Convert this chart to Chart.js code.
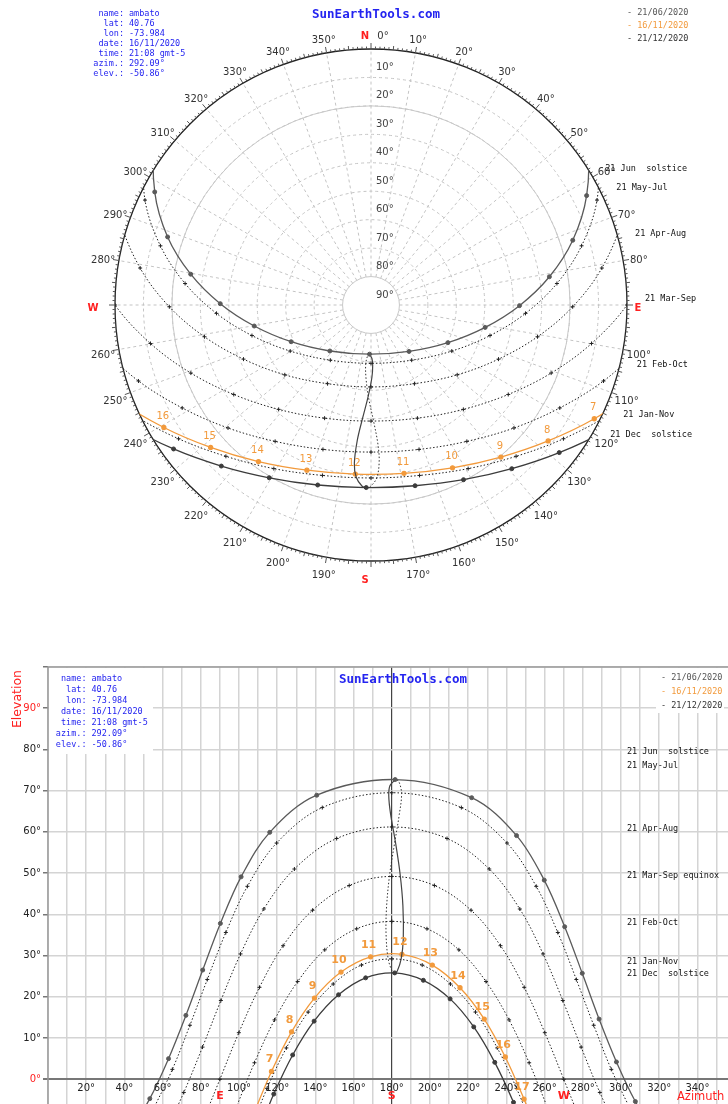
<!DOCTYPE html>
<html>
<head>
<meta charset="utf-8">
<script src="https://cdn.jsdelivr.net/npm/chart.js@4/dist/chart.umd.min.js"></script>
<style>
html, body { margin:0; padding:0; background:#fff; }
#polarBox { position:absolute; left:0; top:0; width:728px; height:600px; }
#flatBox { position:absolute; left:0; top:600px; width:728px; height:504px; }
</style>
</head>
<body>
<div id="polarBox"><canvas id="polarChart" width="728" height="600"></canvas></div>
<div id="flatBox"><canvas id="flatChart" width="728" height="504"></canvas></div>
<script>
// sun paths, azimuth / elevation in degrees, one point per clock hour
var junAz = [42.3, 53.3, 63.1, 72.2, 81.0, 90.25, 101.1, 116.1, 140.7, 181.75, 221.8, 245.3, 259.8, 270.5, 279.7, 288.5, 297.6, 307.5, 318.6];
var junEl = [-13.1, -4.7, 5.0, 15.5, 26.5, 37.8, 49.1, 59.9, 68.9, 72.7, 68.3, 59.1, 48.3, 37.0, 25.7, 14.6, 4.2, -5.4, -13.7];
var mayJulAz = [55.0, 65.1, 74.3, 83.4, 93.1, 104.4, 119.7, 143.6, 180, 216.4, 240.3, 255.6, 266.9, 276.6, 285.7, 294.9, 305.0];
var mayJulEl = [-7.4, 2.4, 13.1, 24.2, 35.6, 46.8, 57.3, 65.9, 69.5, 65.9, 57.3, 46.8, 35.6, 24.2, 13.1, 2.4, -7.4];
var aprAugAz = [60.6, 71.1, 80.9, 90.5, 100.8, 113.0, 129.0, 151.1, 180, 208.9, 231.0, 247.0, 259.2, 269.5, 279.1, 288.9, 299.4];
var aprAugEl = [-13.6, -3.2, 7.8, 19.1, 30.4, 41.3, 51.0, 58.4, 61.2, 58.4, 51.0, 41.3, 30.4, 19.1, 7.8, -3.2, -13.6];
var marSepAz = [80.1, 90, 99.9, 110.7, 123.1, 138.5, 157.7, 180, 202.3, 221.5, 236.9, 249.3, 260.1, 270, 279.9];
var marSepEl = [-11.3, 0, 11.3, 22.3, 32.4, 41.0, 47.0, 49.2, 47.0, 41.0, 32.4, 22.3, 11.3, 0, -11.3];
var febOctAz = [98.3, 108.1, 118.6, 130.7, 144.9, 161.6, 180, 198.4, 215.1, 229.3, 241.4, 251.9, 261.7];
var febOctEl = [-7.1, 4.0, 14.4, 23.7, 31.4, 36.5, 38.3, 36.5, 31.4, 23.7, 14.4, 4.0, -7.1];
var janNovAz = [105.4, 114.7, 124.8, 136.2, 149.3, 164.1, 180, 195.9, 210.7, 223.8, 235.2, 245.3, 254.6];
var janNovEl = [-12.9, -2.2, 7.6, 16.3, 23.1, 27.7, 29.2, 27.7, 23.1, 16.3, 7.6, -2.2, -12.9];
var decAz = [109.0, 118.2, 128.1, 139.3, 152.1, 166.3, 181.5, 196.5, 210.5, 222.9, 233.9, 243.7, 252.7];
var decEl = [-14.0, -3.6, 5.9, 14.1, 20.5, 24.6, 25.8, 24.0, 19.5, 12.7, 4.1, -5.6, -16.1];

// 16/11/2020
var todayHours = [6, 7, 8, 9, 10, 11, 12, 13, 14, 15, 16, 17, 18];
var todayAz = [107.4, 117.0, 127.5, 139.5, 153.4, 168.9, 185.3, 201.2, 215.7, 228.4, 239.4, 249.2, 258.5];
var todayEl = [-8.7, 1.9, 11.5, 19.7, 26.0, 29.7, 30.3, 27.7, 22.2, 14.6, 5.4, -4.8, -15.7];

// analemma at 12:00, Dec -> Jun (dotted) and Jun -> Dec (solid)
var anaFirstAz = [181.5, 180.2, 178.1, 177.0, 177.2, 178.8, 181.5, 183.9, 185.1, 183.6, 181.9];
var anaFirstEl = [25.8, 26.2, 29.2, 35.0, 41.4, 49.4, 57.4, 64.2, 69.3, 72.3, 72.7];
var anaSecondAz = [181.9, 179.0, 178.4, 179.3, 181.9, 184.3, 185.8, 186.0, 184.9, 182.8, 181.5];
var anaSecondEl = [72.7, 71.2, 68.7, 64.5, 57.5, 49.9, 42.1, 34.0, 29.2, 26.2, 25.8];

var curveNames = ['21 Jun  solstice', '21 May-Jul', '21 Apr-Aug', '21 Mar-Sep', '21 Feb-Oct', '21 Jan-Nov', '21 Dec  solstice'];
var flatNames = ['21 Jun  solstice', '21 May-Jul', '21 Apr-Aug', '21 Mar-Sep equinox', '21 Feb-Oct', '21 Jan-Nov', '21 Dec  solstice'];
var legendNames = ['- 21/06/2020', '- 16/11/2020', '- 21/12/2020'];
var infoKeys = ['name:', 'lat:', 'lon:', 'date:', 'time:', 'azim.:', 'elev.:'];
var infoVals = ['ambato', '40.76', '-73.984', '16/11/2020', '21:08 gmt-5', '292.09\u00b0', '-50.86\u00b0'];
var elevTicks = [0, 10, 20, 30, 40, 50, 60, 70, 80, 90, 100];
var azimLabels = [20, 40, 60, 80, 100, 120, 140, 160, 180, 200, 220, 240, 260, 280, 300, 320, 340];

var BLUE = '#2424f0', ORANGE = '#f29a3c', RED = '#ff2020';
var MONO = '"DejaVu Sans Mono", monospace';
var SANS = '"DejaVu Sans", sans-serif';
var SMALL = '8.5px ' + MONO;

var paths = [
    {az: junAz, el: junEl, color: '#5a5a5a', dash: [], pt: 'circle', r: 2, w: 1.3},
    {az: mayJulAz, el: mayJulEl, color: '#222', dash: [1.5, 2], pt: 'cross', r: 2, w: 1},
    {az: aprAugAz, el: aprAugEl, color: '#222', dash: [1.5, 2], pt: 'cross', r: 2, w: 1},
    {az: marSepAz, el: marSepEl, color: '#222', dash: [1.5, 2], pt: 'cross', r: 2, w: 1},
    {az: febOctAz, el: febOctEl, color: '#222', dash: [1.5, 2], pt: 'cross', r: 2, w: 1},
    {az: janNovAz, el: janNovEl, color: '#222', dash: [1.5, 2], pt: 'cross', r: 2, w: 1},
    {az: decAz, el: decEl, color: '#3c3c3c', dash: [], pt: 'circle', r: 2, w: 1.3}
];

function polarXY(az, el){
    var r = (90 - el) / 90;
    var a = az * Math.PI / 180;
    return {x: r * Math.sin(a), y: r * Math.cos(a)};
}
function flatXY(az, el){ return {x: az, y: el}; }

function buildSets(conv){
    var sets = [];
    for(var i=0; i<paths.length; i++){
        var p = paths[i];
        sets.push({
            data: p.az.map(function(a, k){ return conv(a, p.el[k]); }),
            showLine: true, borderColor: p.color, borderWidth: p.w, borderDash: p.dash,
            pointStyle: p.pt, pointRadius: p.r, pointBorderWidth: 1,
            pointBackgroundColor: p.color, pointBorderColor: p.color, tension: 0.35
        });
    }
    sets.push({
        data: anaFirstAz.map(function(a, k){ return conv(a, anaFirstEl[k]); }),
        showLine: true, borderColor: '#333', borderWidth: 1, borderDash: [1.5, 2], pointRadius: 0, tension: 0.35
    });
    sets.push({
        data: anaSecondAz.map(function(a, k){ return conv(a, anaSecondEl[k]); }),
        showLine: true, borderColor: '#444', borderWidth: 1.2, pointRadius: 0, tension: 0.35
    });
    sets.push({
        data: todayAz.map(function(a, k){ return conv(a, todayEl[k]); }),
        showLine: true, borderColor: ORANGE, borderWidth: 1.3, pointRadius: 2,
        pointBackgroundColor: ORANGE, pointBorderColor: ORANGE, tension: 0.35
    });
    return sets;
}

// crossing of the horizon on the morning side
function sunrisePoint(az, el){
    for(var i=0; i<el.length-1; i++){
        if(el[i] < 0 && el[i+1] >= 0){
            var t = (0 - el[i]) / (el[i+1] - el[i]);
            return az[i] + t * (az[i+1] - az[i]);
        }
    }
    return az[0];
}

function drawInfo(ctx, colonX, top, step){
    ctx.font = SMALL;
    ctx.fillStyle = BLUE;
    ctx.textBaseline = 'middle';
    for(var i=0; i<infoKeys.length; i++){
        ctx.textAlign = 'right';
        ctx.fillText(infoKeys[i], colonX, top + i*step);
        ctx.textAlign = 'left';
        ctx.fillText(infoVals[i], colonX + 5, top + i*step);
    }
}
function drawLegend(ctx, x, top, step){
    var cols = ['#555', ORANGE, '#333'];
    ctx.font = SMALL;
    ctx.textAlign = 'left';
    ctx.textBaseline = 'middle';
    for(var i=0; i<legendNames.length; i++){
        ctx.fillStyle = cols[i];
        ctx.fillText(legendNames[i], x, top + i*step);
    }
}
function drawTitle(ctx, x, y){
    ctx.font = 'bold 12.5px ' + MONO;
    ctx.fillStyle = BLUE;
    ctx.textAlign = 'center';
    ctx.textBaseline = 'middle';
    ctx.fillText('SunEarthTools.com', x, y);
}

// ---------- polar diagram ----------
var polarDeco = {
    id: 'polarDeco',
    beforeDatasetsDraw: function(chart){
        var ctx = chart.ctx, xs = chart.scales.x, ys = chart.scales.y;
        var cx = xs.getPixelForValue(0), cy = ys.getPixelForValue(0);
        var R = xs.getPixelForValue(1) - cx;
        ctx.save();
        ctx.strokeStyle = '#c4c4c4';
        ctx.lineWidth = 1;
        ctx.setLineDash([3, 3]);
        for(var e=10; e<=70; e+=10){
            ctx.beginPath();
            ctx.arc(cx, cy, R*(90-e)/90, 0, Math.PI*2);
            ctx.stroke();
        }
        var r80 = R*10/90;
        for(var a=0; a<360; a+=10){
            var s = Math.sin(a*Math.PI/180), c = Math.cos(a*Math.PI/180);
            ctx.beginPath();
            ctx.moveTo(cx + r80*s, cy - r80*c);
            ctx.lineTo(cx + R*s, cy - R*c);
            ctx.stroke();
        }
        ctx.setLineDash([]);
        ctx.strokeStyle = '#c8c8c8';
        ctx.beginPath(); ctx.arc(cx, cy, r80, 0, Math.PI*2); ctx.stroke();
        ctx.beginPath(); ctx.arc(cx, cy, R*70/90, 0, Math.PI*2); ctx.stroke();
        // outer circle and ticks
        ctx.strokeStyle = '#222';
        ctx.lineWidth = 1.3;
        ctx.beginPath(); ctx.arc(cx, cy, R, 0, Math.PI*2); ctx.stroke();
        ctx.lineWidth = 1;
        ctx.strokeStyle = '#555';
        for(var d=0; d<360; d++){
            var len = d % 10 === 0 ? 6 : (d % 5 === 0 ? 4 : 2.5);
            var s2 = Math.sin(d*Math.PI/180), c2 = Math.cos(d*Math.PI/180);
            ctx.beginPath();
            ctx.moveTo(cx + R*s2, cy - R*c2);
            ctx.lineTo(cx + (R+len)*s2, cy - (R+len)*c2);
            ctx.stroke();
        }
        // azimuth labels
        ctx.font = '10px ' + SANS;
        ctx.textAlign = 'center';
        ctx.textBaseline = 'middle';
        for(var b=0; b<360; b+=10){
            var lx = cx + (R+16)*Math.sin(b*Math.PI/180), ly = cy - (R+16)*Math.cos(b*Math.PI/180) + 3;
            if(b === 0){
                ctx.fillStyle = RED; ctx.font = 'bold 10px ' + SANS;
                ctx.fillText('N', lx - 6, ly);
                ctx.fillStyle = '#333'; ctx.font = '10px ' + SANS;
                ctx.fillText('0\u00b0', lx + 12, ly);
            } else if(b === 90 || b === 180 || b === 270){
                ctx.fillStyle = RED; ctx.font = 'bold 10px ' + SANS;
                ctx.fillText(b === 90 ? 'E' : (b === 180 ? 'S' : 'W'), b === 90 ? lx - 5 : lx - 6, ly);
                ctx.font = '10px ' + SANS;
            } else {
                ctx.fillStyle = '#333';
                ctx.fillText(b + '\u00b0', lx, ly);
            }
        }
        // elevation labels along the north line
        ctx.textAlign = 'left';
        ctx.fillStyle = '#444';
        for(var k=10; k<=90; k+=10){
            ctx.fillText(k + '\u00b0', cx + 5, cy - R*(90-k)/90 - 10);
        }
        ctx.restore();
        ctx.save();
        ctx.beginPath(); ctx.arc(cx, cy, R, 0, Math.PI*2); ctx.clip();
    },
    afterDatasetsDraw: function(chart){
        var ctx = chart.ctx, xs = chart.scales.x, ys = chart.scales.y;
        ctx.restore();
        ctx.save();
        // hour labels of the current day
        ctx.font = '10px ' + SANS;
        ctx.fillStyle = ORANGE;
        ctx.textAlign = 'center';
        ctx.textBaseline = 'middle';
        for(var i=0; i<todayHours.length; i++){
            if(todayHours[i] < 7 || todayHours[i] > 16) continue;
            var p = polarXY(todayAz[i], todayEl[i]);
            ctx.fillText(String(todayHours[i]), xs.getPixelForValue(p.x) - 1, ys.getPixelForValue(p.y) - 11);
        }
        // curve names next to sunrise
        var nameDx = [17, 18, 18, 18, 18, 24, 22];
        var nameDy = [-1, 1, 0, -6, -5, -6, -6];
        ctx.font = SMALL;
        ctx.fillStyle = '#111';
        ctx.textAlign = 'left';
        for(var j=0; j<paths.length; j++){
            var az = sunrisePoint(paths[j].az, paths[j].el);
            var q = polarXY(az, 0);
            ctx.fillText(curveNames[j], xs.getPixelForValue(q.x) + nameDx[j], ys.getPixelForValue(q.y) + nameDy[j]);
        }
        drawInfo(ctx, 124, 14, 10);
        drawLegend(ctx, 627, 13, 13);
        drawTitle(ctx, 376, 15);
        ctx.restore();
    }
};

new Chart(document.getElementById('polarChart'), {
    type: 'scatter',
    data: {datasets: buildSets(polarXY)},
    options: {
        responsive: false,
        animation: false,
        layout: {padding: 0, autoPadding: false},
        plugins: {legend: {display: false}, tooltip: {enabled: false}},
        scales: {
            x: {display: false, min: -371/256, max: 357/256},
            y: {display: false, min: -295/256, max: 305/256}
        }
    },
    plugins: [polarDeco]
});

// ---------- azimuth / elevation diagram ----------
var flatDeco = {
    id: 'flatDeco',
    afterDatasetsDraw: function(chart){
        var ctx = chart.ctx, xs = chart.scales.x, ys = chart.scales.y, area = chart.chartArea;
        ctx.save();
        ctx.strokeStyle = '#9a9a9a';
        ctx.lineWidth = 1.5;
        ctx.beginPath();
        ctx.moveTo(area.left, area.bottom); ctx.lineTo(area.left, area.top); ctx.lineTo(area.right, area.top);
        ctx.stroke();
        var y0 = ys.getPixelForValue(0);
        ctx.font = '10px ' + SANS;
        ctx.fillStyle = '#222';
        ctx.textAlign = 'center';
        ctx.textBaseline = 'middle';
        for(var i=0; i<azimLabels.length; i++){
            ctx.fillText(azimLabels[i] + '\u00b0', xs.getPixelForValue(azimLabels[i]), y0 + 9);
        }
        ctx.font = 'bold 11px ' + SANS;
        ctx.fillStyle = RED;
        ctx.fillText('E', xs.getPixelForValue(90), y0 + 17);
        ctx.fillText('S', xs.getPixelForValue(180), y0 + 17);
        ctx.fillText('W', xs.getPixelForValue(270), y0 + 17);
        ctx.font = '11.5px ' + SANS;
        ctx.textAlign = 'left';
        ctx.fillText('Azimuth', 677, y0 + 18);
        ctx.save();
        ctx.translate(18, 99);
        ctx.rotate(-Math.PI/2);
        ctx.textAlign = 'center';
        ctx.font = '12.5px ' + SANS;
        ctx.fillText('Elevation', 0, 0);
        ctx.restore();
        // hour labels
        ctx.font = 'bold 11px ' + SANS;
        ctx.fillStyle = ORANGE;
        ctx.textAlign = 'center';
        for(var h=0; h<todayHours.length; h++){
            if(todayHours[h] < 7 || todayHours[h] > 17) continue;
            ctx.fillText(String(todayHours[h]), xs.getPixelForValue(todayAz[h]) - 2, ys.getPixelForValue(todayEl[h]) - 12);
        }
        // curve names at noon height
        var labelEl = [79.4, 76.0, 60.7, 49.3, 37.9, 28.6, 25.5];
        ctx.font = SMALL;
        ctx.fillStyle = '#111';
        ctx.textAlign = 'left';
        for(var j=0; j<flatNames.length; j++){
            ctx.fillText(flatNames[j], 627, ys.getPixelForValue(labelEl[j]));
        }
        // boxes behind info and legend
        ctx.fillStyle = '#fff';
        ctx.fillRect(area.left + 1, area.top + 1, 104, 86);
        ctx.fillRect(656, area.top + 1, 68, 45);
        drawInfo(ctx, 86.5, 79, 11);
        drawLegend(ctx, 661, 78, 14);
        drawTitle(ctx, 403, 80);
        ctx.restore();
    }
};

new Chart(document.getElementById('flatChart'), {
    type: 'scatter',
    data: {datasets: buildSets(flatXY)},
    options: {
        responsive: false,
        animation: false,
        layout: {padding: {top: 67, right: 0, bottom: 0, left: 0}, autoPadding: false},
        plugins: {legend: {display: false}, tooltip: {enabled: false}},
        scales: {
            x: {
                type: 'linear', min: 0, max: 356,
                afterBuildTicks: function(s){
                    var t = [];
                    for(var v=0; v<=350; v+=10) t.push({value: v});
                    s.ticks = t;
                },
                afterFit: function(s){ s.height = 0; s.paddingLeft = 0; s.paddingRight = 0; },
                ticks: {display: false},
                border: {display: false},
                grid: {
                    drawTicks: false,
                    color: function(c){ return c.tick && c.tick.value === 180 ? '#444' : '#d4d4d4'; },
                    lineWidth: function(c){ return c.tick && c.tick.value === 180 ? 1.2 : 1.5; }
                }
            },
            y: {
                type: 'linear', min: -6, max: 100,
                afterBuildTicks: function(s){
                    s.ticks = elevTicks.map(function(v){ return {value: v}; });
                },
                afterFit: function(s){ s.width = 48; s.paddingTop = 0; s.paddingBottom = 0; },
                border: {display: false},
                ticks: {
                    padding: 2,
                    font: {family: 'DejaVu Sans', size: 10},
                    color: function(c){ return c.tick && (c.tick.value === 0 || c.tick.value === 90) ? RED : '#222'; },
                    callback: function(v){ return v === 100 ? '' : v + '\u00b0'; }
                },
                grid: {
                    tickLength: 5,
                    tickColor: '#777',
                    color: function(c){ return c.tick && c.tick.value === 0 ? '#777' : '#d4d4d4'; },
                    lineWidth: function(c){ return c.tick && c.tick.value === 0 ? 2 : 1.5; }
                }
            }
        }
    },
    plugins: [flatDeco]
});
</script>
</body>
</html>
